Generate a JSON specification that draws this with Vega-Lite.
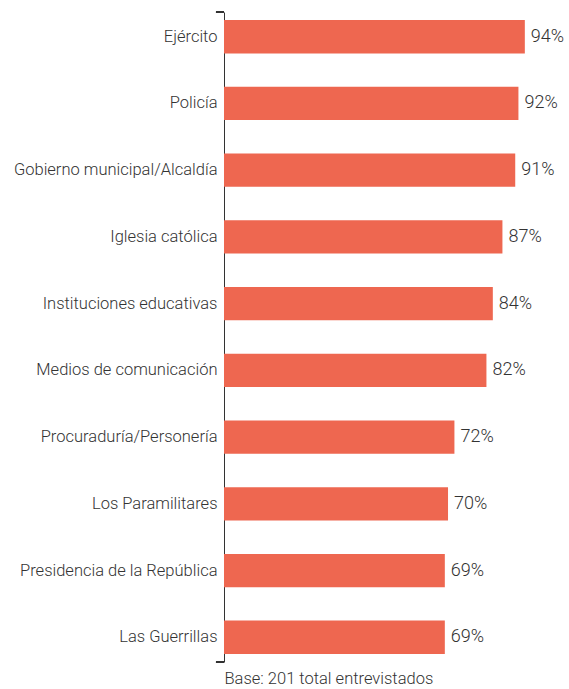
{
  "$schema": "https://vega.github.io/schema/vega-lite/v6.json",
  "autosize": "none",
  "padding": {"left": 224, "top": 12, "right": 0, "bottom": 27},
  "width": 345,
  "height": 650,
  "background": "white",
  "config": {"view": {"stroke": null}, "font": "Roboto"},
  "data": {"values": [
    {"cat": "Ejército", "v": 0.94},
    {"cat": "Policía", "v": 0.92},
    {"cat": "Gobierno municipal/Alcaldía", "v": 0.91},
    {"cat": "Iglesia católica", "v": 0.87},
    {"cat": "Instituciones educativas", "v": 0.84},
    {"cat": "Medios de comunicación", "v": 0.82},
    {"cat": "Procuraduría/Personería", "v": 0.72},
    {"cat": "Los Paramilitares", "v": 0.70},
    {"cat": "Presidencia de la República", "v": 0.69},
    {"cat": "Las Guerrillas", "v": 0.69}
  ]},
  "encoding": {
    "y": {"field": "cat", "type": "nominal", "sort": null,
      "scale": {"paddingInner": 0.5, "paddingOuter": 0.12},
      "axis": {"title": null, "ticks": false, "labelPadding": 7, "labelLimit": 0, "labelFontSize": 16.5, "labelFontWeight": 300, "labelColor": "#333333", "labelFont": "Roboto", "domainColor": "#333333", "domainWidth": 1}}
  },
  "layer": [
    {
      "mark": {"type": "bar", "color": "#EE6750"},
      "encoding": {
        "x": {"field": "v", "type": "quantitative", "scale": {"domain": [0, 1.078], "nice": false},
          "axis": {"domain": false, "ticks": false, "labels": false, "grid": false, "title": "Base: 201 total entrevistados", "titleAnchor": "start", "titleFont": "Roboto", "titleFontSize": 16.5, "titleFontWeight": 300, "titleColor": "#333333", "titlePadding": 8}}
      }
    },
    {
      "mark": {"type": "text", "align": "left", "baseline": "middle", "dx": 6, "fontSize": 18, "fontWeight": 300, "color": "#333333"},
      "encoding": {
        "x": {"field": "v", "type": "quantitative"},
        "text": {"field": "v", "type": "quantitative", "format": ".0%"}
      }
    },
    {
      "mark": {"type": "rule", "color": "#333333", "strokeWidth": 1},
      "encoding": {
        "y": {"datum": "Ejército", "bandPosition": -0.24},
        "x": {"datum": 0},
        "x2": {"datum": -0.025}
      }
    },
    {
      "mark": {"type": "rule", "color": "#333333", "strokeWidth": 1},
      "encoding": {
        "y": {"datum": "Las Guerrillas", "bandPosition": 1.24},
        "x": {"datum": 0},
        "x2": {"datum": -0.025}
      }
    }
  ]
}
